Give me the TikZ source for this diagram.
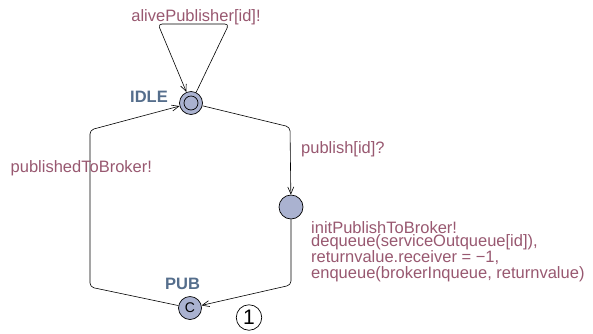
\documentclass[tikz,border=0pt]{standalone}
\usepackage{fontspec}
\setmainfont{Liberation Sans}
\usetikzlibrary{arrows.meta}
\definecolor{lblcol}{RGB}{152,88,112}
\definecolor{namecol}{RGB}{85,110,140}
\definecolor{locfill}{RGB}{170,178,208}
\tikzset{
  loc/.style={circle,draw=black,fill=locfill,line width=0.7pt,minimum size=23pt,inner sep=0pt},
  locname/.style={text=namecol,font=\fontsize{16.5}{16.5}\selectfont\bfseries,inner sep=0pt},
  lbl/.style={text=lblcol,font=\fontsize{16.5}{12}\selectfont,inner sep=0pt},
  edge/.style={draw=black,line width=0.6pt,rounded corners=4pt,-{Straight Barb[length=7pt,width=6pt]}},
}
\begin{document}
\begin{tikzpicture}[x=1pt,y=-1pt]
  \useasboundingbox (0,0) rectangle (593,333);
  % locations
  \node[loc] (idle) at (191,103) {};
  \draw[line width=0.7pt] (idle.center) circle (7pt);
  \node[loc,minimum size=24pt] (mid) at (291,207) {};
  \node[loc] (pub) at (190,308) {\fontsize{14}{14}\selectfont C};
  \node[locname,anchor=base east] (idlename) at (168,102) {IDLE};
  \node[locname,anchor=base] (pubname) at (182.5,289) {PUB};
  % nails
  \coordinate (n1) at (229,24);
  \coordinate (n2) at (158,24);
  \coordinate (n3) at (290,127);
  \coordinate (n4) at (291,285);
  \coordinate (n5) at (90,287);
  \coordinate (n6) at (90,130);
  % edges
  \draw[edge] (idle) -- (n1) -- (n2) -- (idle);
  \draw[edge] (idle) -- (n3) -- (mid);
  \draw[edge] (mid) -- (n4) -- (pub);
  \draw[edge] (pub) -- (n5) -- (n6) -- (idle);
  % labels
  \node[lbl,anchor=base] (l1) at (196,21.5) {alivePublisher[id]!};
  \node[lbl,anchor=base west] (l2) at (301,153) {publish[id]?};
  \node[lbl,anchor=base west] (l3) at (10.5,172.5) {publishedToBroker!};
  \node[lbl,anchor=north west,align=left] (l4) at (311,221.3)
    {initPublishToBroker!\\dequeue(serviceOutqueue[id]),\\returnvalue.receiver = \char"2212 1,\\enqueue(brokerInqueue, returnvalue)};
  % branch-point marker
  \node[circle,draw=black,line width=0.7pt,minimum size=25.5pt,inner sep=0pt,font=\fontsize{21}{21}\selectfont] (one) at (249,317.5) {1};
\end{tikzpicture}
\end{document}
